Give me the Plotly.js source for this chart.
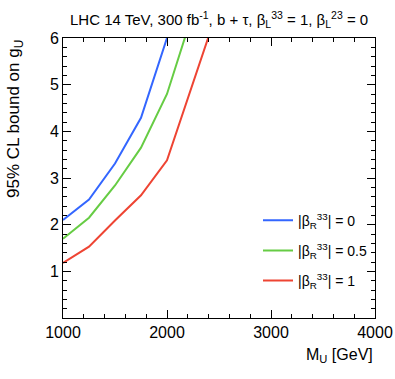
<!DOCTYPE html>
<html>
<head>
<meta charset="utf-8">
<script src="https://cdn.plot.ly/plotly-3.0.1.min.js"></script>
<style>
  body { margin: 0; background: #fff; }
  #plot { width: 395px; height: 379px; }
</style>
</head>
<body>
<div id="plot"></div>
<script>
// bound on g_U vs leptoquark mass, one curve per |beta_R^33|
var massBlue = [1000, 1250, 1500, 1750, 2000];
var gBlue = [2.10, 2.54, 3.31, 4.29, 6.00];

var massGreen = [1000, 1250, 1500, 1750, 2000, 2250];
var gGreen = [1.70, 2.15, 2.84, 3.65, 4.80, 6.55];

var massRed = [1000, 1250, 1500, 1750, 2000, 2400];
var gRed = [1.18, 1.53, 2.09, 2.63, 3.38, 6.03];

var names = ['|β<sub>R</sub><sup>33</sup>| = 0', '|β<sub>R</sub><sup>33</sup>| = 0.5', '|β<sub>R</sub><sup>33</sup>| = 1'];
var xTicks = [1000, 2000, 3000, 4000];
var yTicks = [1, 2, 3, 4, 5, 6];

var data = [
  {x: massBlue, y: gBlue, name: names[0], legendgroup: 'a', mode: 'lines', type: 'scatter',
   line: {color: 'rgb(51,102,255)', width: 2}},
  {x: massGreen, y: gGreen, name: names[1], legendgroup: 'b', mode: 'lines', type: 'scatter',
   line: {color: 'rgb(102,204,68)', width: 2}},
  {x: massRed, y: gRed, name: names[2], legendgroup: 'c', mode: 'lines', type: 'scatter',
   line: {color: 'rgb(238,68,51)', width: 2}}
];

var layout = {
  width: 395,
  height: 379,
  font: {family: 'Liberation Sans, Arial, sans-serif', size: 16, color: '#000'},
  paper_bgcolor: '#fff',
  plot_bgcolor: '#fff',
  margin: {l: 63, r: 20, t: 38, b: 61},
  showlegend: true,
  legend: {
    x: 0.625, y: 0.405, xanchor: 'left', yanchor: 'top',
    bgcolor: 'rgba(0,0,0,0)',
    font: {size: 14},
    traceorder: 'grouped',
    tracegroupgap: 9,
    itemwidth: 30
  },
  xaxis: {
    range: [1000, 4000],
    tickvals: xTicks,
    ticks: 'inside', ticklen: 8, tickcolor: '#000',
    showline: true, linecolor: '#000', linewidth: 1,
    mirror: 'allticks', showgrid: false, zeroline: false,
    minor: {dtick: 200, ticks: 'inside', ticklen: 4, tickcolor: '#000', showgrid: false},
    tickfont: {size: 16}
  },
  yaxis: {
    range: [0, 6],
    tickvals: yTicks,
    ticks: 'inside', ticklen: 8, tickcolor: '#000',
    showline: true, linecolor: '#000', linewidth: 1,
    mirror: 'allticks', showgrid: false, zeroline: false,
    minor: {dtick: 0.2, ticks: 'inside', ticklen: 4, tickcolor: '#000', showgrid: false},
    tickfont: {size: 16}
  },
  annotations: [
    {text: 'LHC 14 TeV, 300 fb<sup>-1</sup>, b + τ, β<sub>L</sub><sup>33</sup> = 1, β<sub>L</sub><sup>23</sup> = 0',
     xref: 'paper', yref: 'paper', x: 0.5, y: 1.0, yshift: 6, xanchor: 'center', yanchor: 'bottom',
     showarrow: false, font: {size: 15}},
    {text: 'M<sub>U</sub> [GeV]', xref: 'paper', yref: 'paper', x: 1, y: 0, yshift: -26,
     xanchor: 'right', yanchor: 'top', showarrow: false, font: {size: 16}},
    {text: '95% CL bound on g<sub>U</sub>', xref: 'paper', yref: 'paper', x: 0, y: 1, xshift: -35,
     xanchor: 'right', yanchor: 'top', textangle: -90, showarrow: false, font: {size: 17}}
  ]
};

Plotly.newPlot('plot', data, layout, {staticPlot: true});
</script>
</body>
</html>
